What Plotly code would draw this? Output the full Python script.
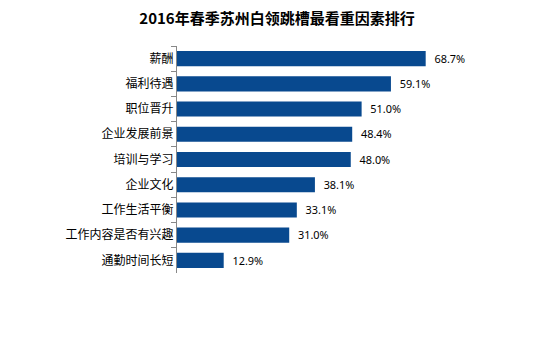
import plotly.graph_objects as go

categories = ["薪酬", "福利待遇", "职位晋升", "企业发展前景", "培训与学习", "企业文化", "工作生活平衡", "工作内容是否有兴趣", "通勤时间长短"]
values = [68.7, 59.1, 51.0, 48.4, 48.0, 38.1, 33.1, 31.0, 12.9]
labels = [f"  {v:.1f}%" for v in values]

fig = go.Figure(go.Bar(
    x=values, y=categories, orientation="h",
    marker=dict(color="#08498f", line=dict(width=0)),
    width=0.6,
    text=labels, textposition="outside", cliponaxis=False,
    textfont=dict(family="Noto Sans", size=13, color="#000000"),
))
fig.update_layout(
    width=554, height=353,
    margin=dict(l=177, r=15, t=46, b=80),
    paper_bgcolor="white", plot_bgcolor="white",
    showlegend=False,
    title=dict(text="<b>2016年春季苏州白领跳槽最看重因素排行</b>", x=0.5, xanchor="center",
               xref="container",
               y=1 - 19/353, yanchor="middle", yref="container",
               font=dict(family="Noto Sans CJK SC", size=15, color="#000000")),
    xaxis=dict(range=[0, 100], visible=False),
    yaxis=dict(autorange="reversed", showline=True, linecolor="#888888", linewidth=1,
               ticks="outside", tickson="boundaries", ticklen=5, tickcolor="#888888", tickwidth=1,
               tickfont=dict(family="Noto Sans CJK SC", size=12, color="#000000"),
               showgrid=False),
    bargap=0.4,
)
fig.write_html("out.html")
